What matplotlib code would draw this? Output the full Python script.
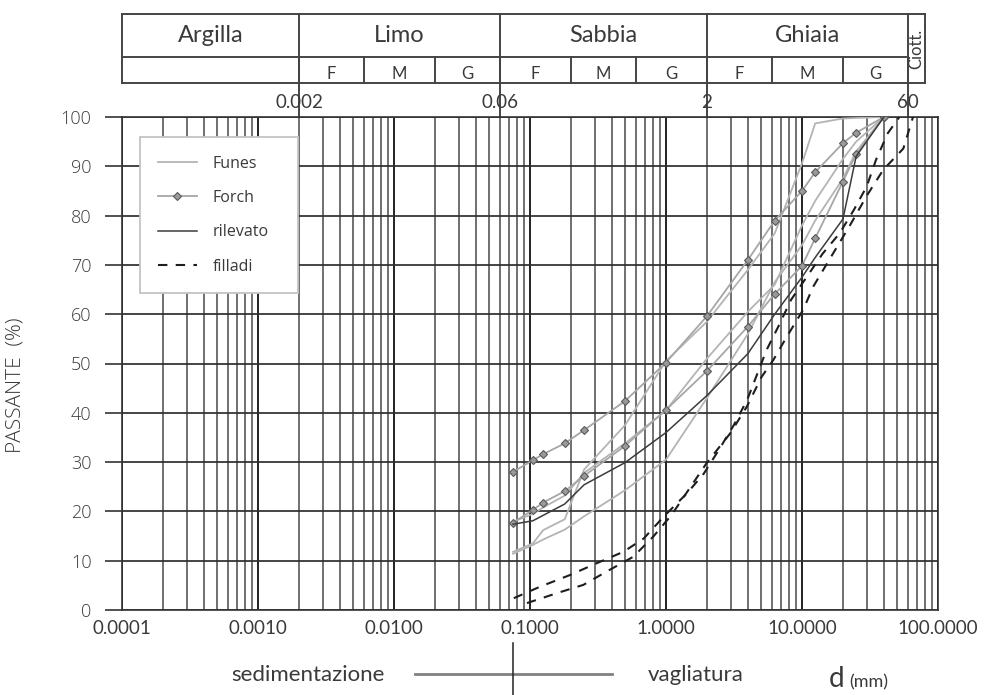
"""Curve granulometriche: Funes, Forch, rilevato, filladi (carta semilogaritmica)."""

import matplotlib
matplotlib.use("Agg")
import matplotlib.pyplot as plt
import matplotlib.transforms as mtransforms
from matplotlib.lines import Line2D
from matplotlib.ticker import FixedLocator, LogLocator, NullFormatter, FuncFormatter

# ── Data ──────────────────────────────────────────────────────────────────────
SIEVES = [0.075, 0.105, 0.125, 0.18, 0.25, 0.5, 1, 2, 4, 6.3, 10, 12.5, 20, 25, 40]

FUNES_1 = [11.4, 13.2, 14.3, 16.3, 19.0, 24.3, 30.5, 43.0, 56.0, 66.5, 74.0, 79.0, 87.5, 93.0, 100]
FUNES_2 = [11.8, 13.5, 16.2, 18.4, 28.5, 37.5, 50.5, 58.5, 69.0, 76.4, 90.6, 98.7, 99.7, 99.8, 100]
FUNES_3 = [17.9, 19.5, 20.8, 23.2, 27.8, 33.8, 40.5, 51.0, 60.5, 66.0, 78.0, 83.0, 91.5, 95.0, 100]

FORCH_1 = [28.0, 30.4, 31.6, 33.8, 36.5, 42.4, 50.2, 59.6, 71.0, 79.0, 85.0, 88.8, 94.7, 96.8, 100]
FORCH_2 = [17.7, 20.3, 21.8, 24.1, 27.2, 33.3, 40.6, 48.5, 57.5, 64.1, 69.8, 75.4, 86.9, 92.5, 100]

RILEVATO = [17.4, 18.1, 19.2, 21.5, 25.4, 29.9, 36.0, 43.5, 52.0, 60.0, 67.5, 71.5, 79.3, 92.0, 100]

FILLADI_A_D = [0.076, 0.118, 0.197, 0.31, 0.486, 0.686, 0.958, 1.43, 1.90, 2.45, 3.15, 3.95,
               5.48, 6.7, 8.3, 14.2, 18.9, 24.0, 29.9, 35.0, 42.7, 52.0]
FILLADI_A_P = [2.4, 4.7, 7.1, 9.5, 11.8, 14.5, 18.9, 23.7, 27.7, 32.5, 37.5, 42.6,
               52.7, 57.5, 62.9, 72.3, 76.4, 81.1, 85.9, 91.3, 96.7, 100]
FILLADI_B_D = [0.095, 0.157, 0.247, 0.366, 0.575, 0.807, 1.10, 1.99, 2.96, 3.92, 5.05, 6.15,
               7.72, 10.2, 12.1, 15.6, 22.5, 29.9, 39.6, 55.6, 65.5]
FILLADI_B_P = [1.4, 3.4, 5.1, 7.8, 10.8, 14.9, 19.3, 29.8, 35.8, 41.2, 47.3, 50.7,
               55.4, 60.9, 65.6, 70.7, 78.0, 84.0, 89.3, 93.6, 100]

CLASSES = ["Argilla", "Limo", "Sabbia", "Ghiaia"]
CLASS_EDGES = [1e-4, 0.002, 0.06, 2, 60]
BOUNDARY_LABELS = ["0.002", "0.06", "2", "60"]
SUB_EDGES = [0.002, 0.006, 0.02, 0.06, 0.2, 0.6, 2, 6, 20, 60]
SUB_LABELS = ["F", "M", "G"] * 3
TABLE_RIGHT = 80
SIEVE_LIMIT = 0.075

Y_TICKS = list(range(0, 101, 10))
X_MAJOR = [1e-4, 1e-3, 1e-2, 1e-1, 1, 10, 100]

# ── Style ─────────────────────────────────────────────────────────────────────
TXT = "#3a3a3a"
NARROW = ["Lato", "DejaVu Sans"]
WIDE = ["Open Sans", "DejaVu Sans"]
W, H = 984, 695

fig = plt.figure(figsize=(W / 100, H / 100), dpi=100)
ax = fig.add_axes([122 / W, 1 - 610 / H, 816 / W, 493 / H])
ax.set_xscale("log")
ax.set_xlim(1e-4, 100)
ax.set_ylim(0, 100)

# grid
ax.xaxis.set_major_locator(FixedLocator(X_MAJOR))
ax.xaxis.set_minor_locator(LogLocator(base=10, subs=range(2, 10)))
ax.xaxis.set_minor_formatter(NullFormatter())
ax.xaxis.set_major_formatter(FuncFormatter(lambda v, _: f"{v:.4f}"))
ax.yaxis.set_major_locator(FixedLocator(Y_TICKS))
ax.grid(which="major", axis="x", color="#111111", lw=1.3)
ax.grid(which="minor", axis="x", color="#505050", lw=1.15)
ax.grid(which="major", axis="y", color="#2e2e2e", lw=1.25)
ax.set_axisbelow(True)
for sp in ax.spines.values():
    sp.set_color("#333333")
    sp.set_linewidth(1.2)

ax.tick_params(axis="x", which="both", length=0, pad=7, labelsize=13.5, labelcolor=TXT)
ax.tick_params(axis="y", direction="out", length=12, width=1.2, color="#333333",
               pad=10, labelsize=13, labelcolor=TXT)
for lab in ax.get_xticklabels():
    lab.set_family(NARROW)
for lab in ax.get_yticklabels():
    lab.set_family(WIDE)
    lab.set_weight("light")

ax.set_ylabel("PASSANTE  (%)", fontsize=15, color=TXT, family=WIDE, weight="light")
ax.yaxis.set_label_coords(-0.118, 0.455)

# ── Curves ────────────────────────────────────────────────────────────────────
funes_kw = dict(color="#b4b4b4", lw=1.3, zorder=3)
forch_kw = dict(color="#a6a6a6", lw=1.3, marker="D", ms=4.5, mfc="#9a9a9a",
                mec="#5a5a5a", mew=0.8, zorder=4)
ril_kw = dict(color="#3c3c3c", lw=1.1, zorder=4)
fil_kw = dict(color="#1e1e1e", lw=1.5, ls=(0, (4.5, 4)), zorder=4)

for series in (FUNES_1, FUNES_2, FUNES_3):
    ax.plot(SIEVES, series, **funes_kw)
for series in (FORCH_1, FORCH_2):
    ax.plot(SIEVES, series, **forch_kw)
ax.plot(SIEVES, RILEVATO, **ril_kw)
ax.plot(FILLADI_A_D, FILLADI_A_P, **fil_kw)
ax.plot(FILLADI_B_D, FILLADI_B_P, **fil_kw)

handles = [Line2D([], [], **funes_kw), Line2D([], [], **forch_kw),
           Line2D([], [], **ril_kw), Line2D([], [], **fil_kw)]
leg = ax.legend(handles, ["Funes", "Forch", "rilevato", "filladi"], loc="upper left",
                bbox_to_anchor=(0.022, 0.629, 0.194, 0.330), mode="expand",
                borderaxespad=0, fancybox=False, edgecolor="#c4c4c4", framealpha=1,
                prop={"family": WIDE, "size": 11.5}, labelspacing=1.15,
                handlelength=2.4, handletextpad=1.0, borderpad=1.15)
leg.get_frame().set_linewidth(1.3)
leg.set_zorder(6)
for t in leg.get_texts():
    t.set_color(TXT)

# ── Classification table above the plot ──────────────────────────────────────
tr = mtransforms.blended_transform_factory(ax.transData, ax.transAxes)
Y_TOP, Y_MID, Y_BOT = 1.209, 1.122, 1.069
line_kw = dict(transform=tr, color="#444444", lw=1.4, clip_on=False)

ax.plot([1e-4, TABLE_RIGHT], [Y_TOP, Y_TOP], **line_kw)
ax.plot([1e-4, TABLE_RIGHT], [Y_BOT, Y_BOT], **line_kw)
ax.plot([1e-4, 60], [Y_MID, Y_MID], **line_kw)
ax.plot([1e-4, 1e-4], [Y_BOT, Y_TOP], **line_kw)
ax.plot([TABLE_RIGHT, TABLE_RIGHT], [Y_BOT, Y_TOP], **line_kw)
for x in CLASS_EDGES[1:]:
    ax.plot([x, x], [1.0, Y_TOP], **line_kw)
for x in SUB_EDGES:
    ax.plot([x, x], [Y_BOT, Y_MID], **line_kw)

for name, lo, hi in zip(CLASSES, CLASS_EDGES[:-1], CLASS_EDGES[1:]):
    ax.text((lo * hi) ** 0.5, (Y_TOP + Y_MID) / 2, name, transform=tr, ha="center",
            va="center", fontsize=17, color=TXT, family=NARROW)
for lab, lo, hi in zip(SUB_LABELS, SUB_EDGES[:-1], SUB_EDGES[1:]):
    ax.text((lo * hi) ** 0.5, Y_BOT + 0.002, lab, transform=tr, ha="center",
            va="bottom", fontsize=12, color=TXT, family=NARROW)
ax.text((60 * TABLE_RIGHT) ** 0.5, (Y_TOP + Y_BOT) / 2, "Ciott.", transform=tr,
        ha="center", va="center", rotation=90, fontsize=12, color=TXT, family=NARROW)
for x, lab in zip(CLASS_EDGES[1:], BOUNDARY_LABELS):
    ax.text(x, 1.029, lab, transform=tr, ha="center", va="center", fontsize=13.5,
            color=TXT, family=NARROW)

# ── Bottom annotation ─────────────────────────────────────────────────────────
fig.text(308 / W, 1 - 675 / H, "sedimentazione", ha="center", va="center",
         fontsize=16, color=TXT, family=NARROW)
fig.text(696 / W, 1 - 675 / H, "vagliatura", ha="center", va="center",
         fontsize=16, color=TXT, family=NARROW)
fig.add_artist(Line2D([415 / W, 612 / W], [1 - 674 / H] * 2, transform=fig.transFigure,
                      color="#808080", lw=2))
trb = mtransforms.blended_transform_factory(ax.transData, fig.transFigure)
fig.add_artist(Line2D([SIEVE_LIMIT, SIEVE_LIMIT], [1 - 643 / H, 0], transform=trb,
                      color="#222222", lw=1.1))
fig.text(829 / W, 1 - 687 / H, "d", ha="left", va="baseline", fontsize=20,
         color=TXT, family=NARROW)
fig.text(849 / W, 1 - 687 / H, "(mm)", ha="left", va="baseline", fontsize=13,
         color=TXT, family=NARROW)

fig.savefig("out.png", dpi=100)
